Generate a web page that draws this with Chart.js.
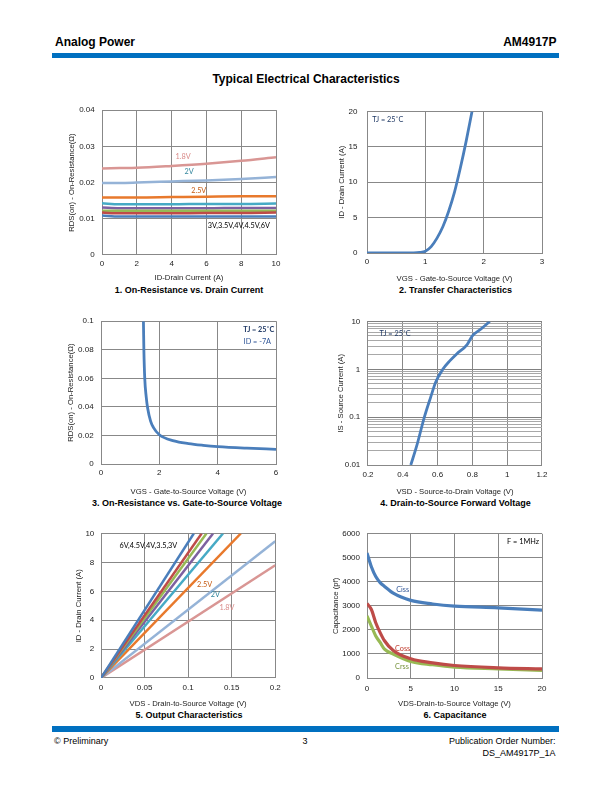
<!DOCTYPE html>
<html><head><meta charset="utf-8">
<script src="https://cdn.jsdelivr.net/npm/chart.js@4.4.1/dist/chart.umd.min.js"></script>
<style>
html,body{margin:0;padding:0;background:#fff}
body{width:612px;height:792px;position:relative;overflow:hidden;font-family:"Liberation Sans",Arial,Helvetica,sans-serif;color:#000}
.t{position:absolute;white-space:nowrap;line-height:1}
.b{font-weight:bold}
.c{transform:translateX(-50%)}
.bar{position:absolute;left:52px;width:507px;background:#0070c0}
canvas{position:absolute;display:block}
</style></head><body>
<div class="t b" style="left:55px;top:35.6px;font-size:12px">Analog Power</div>
<div class="t b" style="right:55.5px;top:35.6px;font-size:12px">AM4917P</div>
<div class="bar" style="top:53px;height:5px"></div>
<div class="t b c" style="left:306px;top:72.6px;font-size:12px">Typical Electrical Characteristics</div>

<div class="t b c" style="left:189px;top:286px;font-size:9px">1. On-Resistance vs. Drain Current</div>
<div class="t b c" style="left:455.5px;top:286px;font-size:9px">2. Transfer Characteristics</div>
<div class="t b c" style="left:187px;top:498.6px;font-size:9px">3. On-Resistance vs. Gate-to-Source Voltage</div>
<div class="t b c" style="left:455.5px;top:498.6px;font-size:9px">4. Drain-to-Source Forward Voltage</div>
<div class="t b c" style="left:189px;top:710.6px;font-size:9px">5. Output Characteristics</div>
<div class="t b c" style="left:455px;top:710.6px;font-size:9px">6. Capacitance</div>

<div class="bar" style="top:726px;height:6px"></div>
<div class="t" style="left:54px;top:737.2px;font-size:9px">© Preliminary</div>
<div class="t c" style="left:305px;top:737.2px;font-size:9px">3</div>
<div class="t" style="right:56.5px;top:737.2px;font-size:9px;text-align:right">Publication Order Number:</div>
<div class="t" style="right:56.5px;top:748.9px;font-size:9px;text-align:right">DS_AM4917P_1A</div>

<script>
// ---------- DATA ----------
// 1. On-Resistance vs. Drain Current
const idCurrent = [0, 1, 2, 4, 6, 8, 10];
const rds18 = [0.0239, 0.0240, 0.0241, 0.0246, 0.0252, 0.0260, 0.0270];
const rds2  = [0.0199, 0.0199, 0.0200, 0.0203, 0.0206, 0.0210, 0.0215];
const rds25 = [0.0159, 0.0159, 0.0159, 0.0160, 0.0161, 0.0162, 0.0162];
const rds3  = [0.0143, 0.0140, 0.0140, 0.0140, 0.0141, 0.0141, 0.0142];
const rds35 = [0.0131, 0.0129, 0.0129, 0.0129, 0.0129, 0.0130, 0.0130];
const rds4  = [0.0122, 0.0122, 0.0122, 0.0122, 0.0122, 0.0122, 0.0122];
const rds45 = [0.0117, 0.0115, 0.0115, 0.0115, 0.0116, 0.0116, 0.0117];
const rds6  = [0.0109, 0.0106, 0.0106, 0.0106, 0.0106, 0.0106, 0.0106];
const ch1Notes = ['1.8V', '2V', '2.5V', '3V,3.5V,4V,4.5V,6V'];

// 2. Transfer Characteristics
const vgsTransfer = [0, 0.2, 0.4, 0.6, 0.8, 0.9, 1.0, 1.1, 1.2, 1.3, 1.4, 1.5, 1.6, 1.7, 1.8];
const idTransfer  = [0, 0, 0, 0, 0.02, 0.08, 0.25, 0.9, 2.1, 3.7, 5.9, 8.6, 12.0, 15.8, 20];

// 3. On-Resistance vs. Gate-to-Source Voltage
const vgsRds = [1.455, 1.47, 1.5, 1.55, 1.6, 1.7, 1.8, 2.0, 2.5, 3.0, 3.5, 4.0, 5.0, 6.0];
const rdsVgs = [0.1, 0.08, 0.06, 0.047, 0.039, 0.030, 0.0255, 0.0205, 0.0162, 0.0143, 0.0131, 0.0122, 0.0111, 0.0103];

// 4. Drain-to-Source Forward Voltage
const vsdDiode = [0.446, 0.48, 0.524, 0.56, 0.59, 0.63, 0.67, 0.71, 0.77, 0.80, 0.85, 0.90];
const isDiode  = [0.01, 0.025, 0.1, 0.26, 0.55, 1.0, 1.5, 2.1, 3.3, 5.0, 7.0, 10];
const logDecades = [0.01, 0.1, 1, 10];
const logGrid = [0.01,0.02,0.03,0.04,0.05,0.06,0.07,0.08,0.09,
                 0.1,0.2,0.3,0.4,0.5,0.6,0.7,0.8,0.9,
                 1,2,3,4,5,6,7,8,9,10];

// 5. Output Characteristics (straight lines from origin)
const outVgs    = ['6V', '4.5V', '4V', '3.5V', '3V', '2.5V', '2V', '1.8V'];
const outEndVds = [0.1065, 0.1155, 0.121, 0.1286, 0.140, 0.1605, 0.2, 0.2];
const outEndId  = [10, 10, 10, 10, 10, 10, 9.47, 7.8];
const ch5Notes = ['6V,4.5V,4V,3.5,3V', '2.5V', '2V', '1.8V'];

// 6. Capacitance
const vdsCap = [0, 0.5, 1, 1.5, 2, 3, 5, 7.5, 10, 15, 20];
const ciss = [5200, 4630, 4220, 3970, 3810, 3530, 3230, 3080, 2990, 2920, 2820];
const coss = [3100, 2850, 2300, 1890, 1550, 1140, 800, 630, 520, 425, 380];
const crss = [2580, 2160, 1750, 1480, 1200, 1000, 690, 550, 450, 380, 320];
const capNames = ['Ciss', 'Coss', 'Crss'];

// ---------- STYLE ----------
const C = {blue:'#4a7ebb', red:'#be4b48', green:'#98b954', purple:'#7d60a0', teal:'#46aac5',
           orange:'#e8792c', lblue:'#95b3d7', pink:'#d99694'};
const GRID = '#888', TICK = '#222';
const FAM = "'Liberation Sans', Arial, sans-serif";
const NOTE = "Lato, 'Open Sans', sans-serif";
const tickFont = {family: FAM, size: 8};
const titleFont = {family: FAM, size: 7.7};

function pts(xs, ys){ return xs.map((x, i) => ({x: x, y: ys[i]})); }
function clean(v){ return String(parseFloat(Number(v).toFixed(6))); }
function ds(data, color, w){
  return {data: data, borderColor: color, backgroundColor: color, borderWidth: w, pointRadius: 0,
          fill: false, cubicInterpolationMode: 'monotone', borderJoinStyle: 'round', borderCapStyle: 'butt'};
}
function axis(o){
  const a = {
    type: o.type || 'linear', position: o.pos, min: o.min, max: o.max,
    ticks: {stepSize: o.step, padding: o.pad, font: tickFont, color: TICK, autoSkip: false,
            maxRotation: 0, minRotation: 0, callback: o.cb || ((v) => clean(v))},
    grid: {color: o.gridColor || GRID, lineWidth: 1, drawTicks: false},
    border: {color: GRID, width: 1},
    title: {display: true, text: o.title, font: titleFont, color: TICK, padding: 0},
    afterFit: (s) => { if (o.pos === 'left') s.width = o.size; else s.height = o.size; }
  };
  if (o.tickValues) a.afterBuildTicks = (s) => { s.ticks = o.tickValues.map(v => ({value: v})); };
  return a;
}
const notesPlugin = {
  id: 'notes',
  afterDatasetsDraw(chart, args, opts){
    const ctx = chart.ctx, xs = chart.scales.x, ys = chart.scales.y;
    (opts.items || []).forEach(it => {
      ctx.save();
      ctx.font = (it.bold ? 'bold ' : '') + (it.size || 7.3) + 'px ' + NOTE;
      ctx.fillStyle = it.color || '#000';
      ctx.textAlign = it.align || 'center';
      ctx.textBaseline = 'middle';
      ctx.fillText(it.text, xs.getPixelForValue(it.x), ys.getPixelForValue(it.y));
      ctx.restore();
    });
  }
};

function makeChart(g, datasets, xAx, yAx, notes){
  const cl = Math.floor(g.l - g.W), ct = Math.floor(g.t - 10);
  const cw = Math.ceil(g.r + 10 - cl), chh = Math.ceil(g.b + g.H - ct);
  const cv = document.createElement('canvas');
  cv.width = cw; cv.height = chh;
  cv.style.left = cl + 'px'; cv.style.top = ct + 'px';
  cv.style.width = cw + 'px'; cv.style.height = chh + 'px';
  document.body.appendChild(cv);
  xAx.pos = 'bottom'; xAx.size = g.H;
  yAx.pos = 'left'; yAx.size = g.W;
  new Chart(cv, {
    type: 'line',
    data: {datasets: datasets},
    options: {
      responsive: false, animation: false, devicePixelRatio: 1,
      layout: {padding: {left: (g.l - g.W) - cl, top: g.t - ct, right: cw - (g.r - cl), bottom: chh - (g.b + g.H - ct)}},
      scales: {x: axis(xAx), y: axis(yAx)},
      plugins: {legend: {display: false}, tooltip: {enabled: false}, notes: {items: notes}}
    },
    plugins: [notesPlugin]
  });
}

// ---------- CHART 1 ----------
makeChart({l:102, r:276, t:108, b:255, W:35.2, H:27.9},
  [ds(pts(idCurrent, rds6), C.blue, 2.5), ds(pts(idCurrent, rds45), C.red, 2.5),
   ds(pts(idCurrent, rds4), C.green, 2.5), ds(pts(idCurrent, rds35), C.purple, 2.5),
   ds(pts(idCurrent, rds3), C.teal, 2.5), ds(pts(idCurrent, rds25), C.orange, 2.5),
   ds(pts(idCurrent, rds2), C.lblue, 2.5), ds(pts(idCurrent, rds18), C.pink, 2.5)],
  {min:0, max:10, step:2, pad:4.2, title:'ID-Drain Current (A)'},
  {min:0, max:0.04, step:0.01, pad:7.3, title:'RDS(on) - On-Resistance(Ω)'},
  [{text: ch1Notes[0], x:4.66, y:0.0272, color:'#d98a88'},
   {text: ch1Notes[1], x:5.0, y:0.0229, color:'#31859c'},
   {text: ch1Notes[2], x:5.56, y:0.0177, color:'#c55a11'},
   {text: ch1Notes[3], x:7.86, y:0.0082, color:'#000'}]);

// ---------- CHART 2 ----------
makeChart({l:367, r:542, t:107, b:253, W:30.2, H:30.3},
  [ds(pts(vgsTransfer, idTransfer), C.blue, 2.8)],
  {min:0, max:3, step:1, pad:3.9, title:'VGS - Gate-to-Source Voltage (V)'},
  {min:0, max:20, step:5, pad:9.6, title:'ID - Drain Current (A)'},
  [{text:'TJ = 25˚C', x:0.356, y:18.9, color:'#1f3864'}]);

// ---------- CHART 3 ----------
makeChart({l:101, r:276, t:319, b:464, W:34.6, H:32.6},
  [ds(pts(vgsRds, rdsVgs), C.blue, 2.8)],
  {min:0, max:6, step:2, pad:4.2, title:'VGS - Gate-to-Source Voltage (V)'},
  {min:0, max:0.1, step:0.02, pad:7.4, title:'RDS(on) - On-Resistance(Ω)'},
  [{text:'TJ = 25˚C', x:5.41, y:0.0938, color:'#1f3864', bold:true},
   {text:'ID = -7A', x:5.36, y:0.0857, color:'#2f5597'}]);

// ---------- CHART 4 ----------
makeChart({l:368, r:542, t:319, b:465, W:31.3, H:31.6},
  [ds(pts(vsdDiode, isDiode), C.blue, 2.8)],
  {min:0.2, max:1.2, step:0.2, pad:4.5, title:'VSD - Source-to-Drain Voltage (V)'},
  {type:'logarithmic', min:0.01, max:10, pad:7.7, title:'IS - Source Current (A)',
   tickValues: logGrid,
   cb: (v) => logDecades.some(d => Math.abs(d - v) < d * 1e-6) ? clean(v) : '',
   gridColor: (ctx) => (ctx.tick && logDecades.some(d => Math.abs(d - ctx.tick.value) < d * 1e-6)) ? '#808080' : '#a8a8a8'},
  [{text:'TJ = 25˚C', x:0.356, y:5.5, color:'#1f3864'}]);

// ---------- CHART 5 ----------
const outColors = [C.blue, C.red, C.green, C.purple, C.teal, C.orange, C.lblue, C.pink];
makeChart({l:101, r:276, t:532, b:678, W:26.6, H:30.9},
  outVgs.map((name, i) => ds(pts([0, outEndVds[i]], [0, outEndId[i]]), outColors[i], 2.5)),
  {min:0, max:0.2, step:0.05, pad:5.2, title:'VDS - Drain-to-Source Voltage (V)'},
  {min:0, max:10, step:2, pad:6.7, title:'ID - Drain Current (A)'},
  [{text: ch5Notes[0], x:0.0544, y:9.17, color:'#000'},
   {text: ch5Notes[1], x:0.119, y:6.49, color:'#c55a11'},
   {text: ch5Notes[2], x:0.1313, y:5.76, color:'#31859c'},
   {text: ch5Notes[3], x:0.1446, y:4.88, color:'#d98a88'}]);

// ---------- CHART 6 ----------
makeChart({l:367, r:542, t:532, b:678, W:35.9, H:30.9},
  [ds(pts(vdsCap, ciss), C.blue, 3.2), ds(pts(vdsCap, coss), C.red, 3.2), ds(pts(vdsCap, crss), C.green, 3.2)],
  {min:0, max:20, step:5, pad:5.5, title:'VDS-Drain-to-Source Voltage (V)'},
  {min:0, max:6000, step:1000, pad:7, title:'Capacitance (pf)'},
  [{text: capNames[0], x:4.07, y:3674, color:'#2f5597'},
   {text: capNames[1], x:4.07, y:1233, color:'#c0392b'},
   {text: capNames[2], x:4.0, y:468, color:'#77933c'},
   {text:'F = 1MHz', x:17.83, y:5659, color:'#000'}]);
</script>
</body></html>
